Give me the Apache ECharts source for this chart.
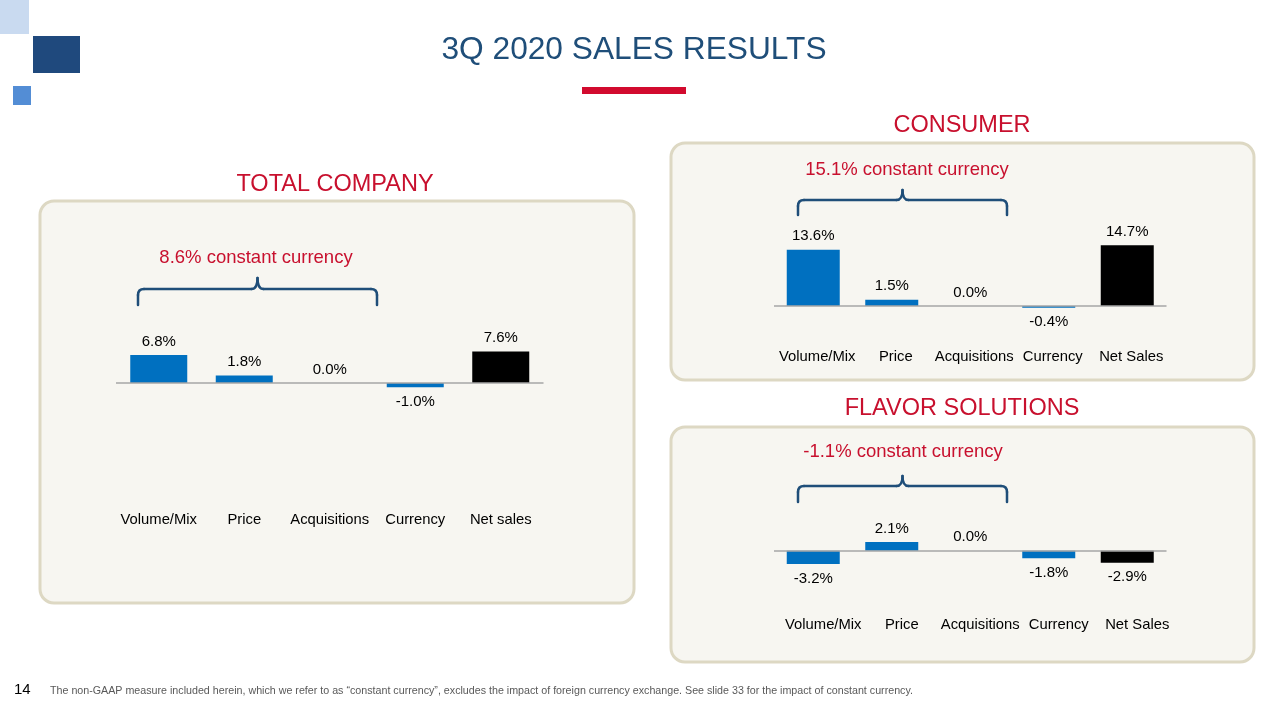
<!DOCTYPE html>
<html>
<head>
<meta charset="utf-8">
<script src="https://cdn.jsdelivr.net/npm/echarts@6/dist/echarts.min.js"></script>
<style>
html,body{margin:0;padding:0;background:#fff;}
#c{width:1269px;height:711px;}
</style>
</head>
<body>
<div id="c"></div>
<script>
// ---- data ----
var totalCategories = ['Volume/Mix', 'Price', 'Acquisitions', 'Currency', 'Net sales'];
var totalValues = [6.8, 1.8, 0.0, -1.0, 7.6];
var consumerCategories = ['Volume/Mix', 'Price', 'Acquisitions', 'Currency', 'Net Sales'];
var consumerValues = [13.6, 1.5, 0.0, -0.4, 14.7];
var flavorCategories = ['Volume/Mix', 'Price', 'Acquisitions', 'Currency', 'Net Sales'];
var flavorValues = [-3.2, 2.1, 0.0, -1.8, -2.9];
var totalConstant = '8.6% constant currency';
var consumerConstant = '15.1% constant currency';
var flavorConstant = '-1.1% constant currency';

var FONT = '"Liberation Sans", Arial, sans-serif';
var BLUE = '#0070C0', BLACK = '#000000', RED = '#C8102E', NAVY = '#1F4E79';

// layout helpers (pixel per %)
var K = 4.13;
function gridFor(left, width, y0, min, max) {
  return { left: left, width: width, top: y0 - max * K, height: (max - min) * K, containLabel: false };
}
var panels = [
  { grid: gridFor(116, 427.5, 383, -30, 20), min: -30, max: 20, cats: totalCategories, vals: totalValues, bw: 57, margin: 6, shift: 0 },
  { grid: gridFor(774, 392.5, 306, -9, 20), min: -9, max: 20, cats: consumerCategories, vals: consumerValues, bw: 53, margin: 6, shift: 8 },
  { grid: gridFor(774, 392.5, 550.7, -15, 20), min: -15, max: 20, cats: flavorCategories, vals: flavorValues, bw: 53, margin: 5, shift: 20 }
];

var grids = [], xAxes = [], yAxes = [], series = [];
panels.forEach(function (p, i) {
  grids.push(p.grid);
  xAxes.push({
    type: 'category', gridIndex: i, data: p.cats, position: 'bottom',
    axisLine: { show: false, onZero: false }, axisTick: { show: false }, splitLine: { show: false },
    axisLabel: { color: '#000', fontFamily: FONT, fontSize: 14.8, margin: p.margin, interval: 0, padding: [0, 0, 0, p.shift] }
  });
  yAxes.push({
    type: 'value', gridIndex: i, min: p.min, max: p.max, show: false, splitLine: { show: false }
  });
  var n = p.vals.length;
  series.push({
    type: 'bar', xAxisIndex: i, yAxisIndex: i, barWidth: p.bw,
    data: p.vals.map(function (v, j) {
      return {
        value: v,
        itemStyle: { color: j === n - 1 ? BLACK : BLUE },
        label: {
          show: true,
          position: v < 0 ? 'bottom' : 'top',
          distance: v < 0 ? 7 : 6,
          formatter: v.toFixed(1) + '%',
          color: '#000', fontFamily: FONT, fontSize: 15
        }
      };
    }),
    markLine: {
      silent: true, symbol: ['none', 'none'], label: { show: false },
      lineStyle: { color: '#A6A6A6', width: 1.5, type: 'solid' },
      data: [{ yAxis: 0 }],
      animation: false
    },
    z: 3,
    animation: false
  });
});

function braceGroup(x1, x2, yTop, yEnd, yPeak) {
  var xm = (x1 + x2) / 2, r = 6;
  var st = { stroke: NAVY, lineWidth: 2.5, fill: null, lineCap: 'round' };
  function line(a, b, c, d) { return { type: 'line', shape: { x1: a, y1: b, x2: c, y2: d }, style: st }; }
  function curve(a, b, c, d, cx, cy) { return { type: 'bezierCurve', shape: { x1: a, y1: b, x2: c, y2: d, cpx1: cx, cpy1: cy }, style: st }; }
  return {
    type: 'group', z: 10,
    children: [
      line(x1, yEnd, x1, yTop + r),
      curve(x1, yTop + r, x1 + r, yTop, x1, yTop),
      line(x1 + r, yTop, xm - r, yTop),
      curve(xm - r, yTop, xm, yPeak, xm, yTop),
      curve(xm, yPeak, xm + r, yTop, xm, yTop),
      line(xm + r, yTop, x2 - r, yTop),
      curve(x2 - r, yTop, x2, yTop + r, x2, yTop),
      line(x2, yTop + r, x2, yEnd)
    ]
  };
}

function panelRect(x1, y1, x2, y2) {
  return {
    type: 'rect', z: -10,
    shape: { x: x1, y: y1, width: x2 - x1, height: y2 - y1, r: 14 },
    style: { fill: '#F7F6F1', stroke: '#DDD8C3', lineWidth: 3 }
  };
}
function txt(x, y, s, size, color, align) {
  return { type: 'text', z: 10, style: { text: s, x: x, y: y, fill: color, font: size + 'px ' + FONT, textAlign: align || 'center', textVerticalAlign: 'middle' } };
}

var graphics = [
  // decorative squares
  { type: 'rect', shape: { x: 0, y: 0, width: 29, height: 34 }, style: { fill: '#C9DAF0' } },
  { type: 'rect', shape: { x: 33, y: 36, width: 47, height: 37 }, style: { fill: '#1F497D' } },
  { type: 'rect', shape: { x: 13, y: 86, width: 18, height: 19 }, style: { fill: '#538DD5' } },
  // title
  txt(634, 50, '3Q 2020 SALES RESULTS', 31.7, NAVY),
  { type: 'rect', shape: { x: 582, y: 87, width: 104, height: 7 }, style: { fill: '#D20A2E' } },
  // panels
  panelRect(40, 201, 634, 603),
  panelRect(671, 143, 1254, 380),
  panelRect(671, 427, 1254, 662),
  // panel titles
  txt(335, 185, 'TOTAL COMPANY', 23.5, RED),
  txt(962, 126, 'CONSUMER', 23.5, RED),
  txt(962, 409, 'FLAVOR SOLUTIONS', 23.5, RED),
  // constant currency notes
  txt(256, 258, totalConstant, 18.5, RED),
  txt(907, 170, consumerConstant, 18.5, RED),
  txt(903, 452, flavorConstant, 18.5, RED),
  braceGroup(138, 377, 289, 305, 278),
  braceGroup(798, 1007, 200, 215, 190),
  braceGroup(798, 1007, 486, 502, 476),
  // footer
  txt(14, 690, '14', 15, '#000', 'left'),
  txt(50, 691, 'The non-GAAP measure included herein, which we refer to as \u201cconstant currency\u201d, excludes the impact of foreign currency exchange. See slide 33 for the impact of constant currency.', 10.7, '#595959', 'left')
];

var chart = echarts.init(document.getElementById('c'), null, { renderer: 'canvas' });
chart.setOption({
  backgroundColor: '#ffffff',
  animation: false,
  grid: grids,
  xAxis: xAxes,
  yAxis: yAxes,
  series: series,
  graphic: graphics
});
</script>
</body>
</html>
